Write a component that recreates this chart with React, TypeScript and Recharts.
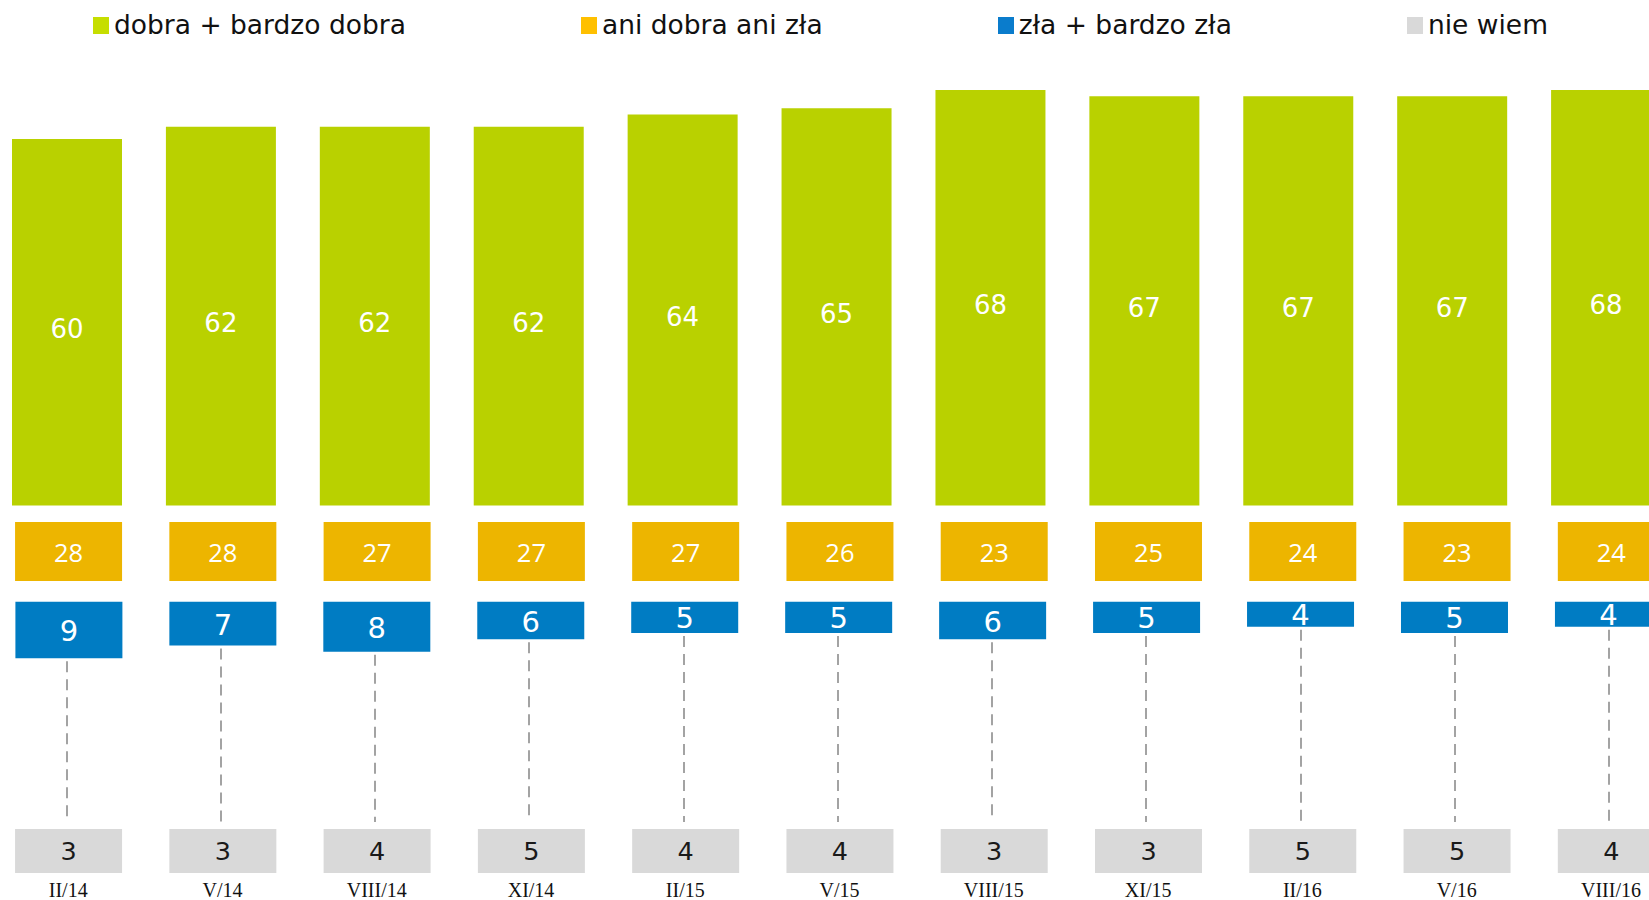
import React from 'react';
import { BarChart, Bar, XAxis, YAxis, LabelList, Legend } from 'recharts';

// ---------- data ----------
const categories = ['II/14', 'V/14', 'VIII/14', 'XI/14', 'II/15', 'V/15', 'VIII/15', 'XI/15', 'II/16', 'V/16', 'VIII/16'];
const goodValues = [60, 62, 62, 62, 64, 65, 68, 67, 67, 67, 68];
const neutralValues = [28, 28, 27, 27, 27, 26, 23, 25, 24, 23, 24];
const badValues = [9, 7, 8, 6, 5, 5, 6, 5, 4, 5, 4];
const dontKnowValues = [3, 3, 4, 5, 4, 4, 3, 3, 5, 5, 4];

const NAME_GOOD = 'dobra + bardzo dobra';
const NAME_NEUTRAL = 'ani dobra ani zła';
const NAME_BAD = 'zła + bardzo zła';
const NAME_DK = 'nie wiem';
const LEGEND_ORDER = [NAME_GOOD, NAME_NEUTRAL, NAME_BAD, NAME_DK];

// ---------- styles / layout ----------
const GREEN = '#b9d100';
const ORANGE = '#edb500';
const BLUE = '#007cc3';
const GRAY = '#d9d9d9';
const LEGEND_COLORS: Record<string, string> = {
  [NAME_GOOD]: '#c6de00',
  [NAME_NEUTRAL]: '#ffc000',
  [NAME_BAD]: '#0a7ccc',
  [NAME_DK]: '#d9d9d9',
};

const CHART_W = 1722;
const CHART_H = 900;
const MARGIN = { top: 0, right: 0, left: 20, bottom: 0 };
const X_AXIS_H = 25;
const PLOT_H = CHART_H - MARGIN.top - MARGIN.bottom - X_AXIS_H;

const GREEN_BASE = 505.5;
const GREEN_K = 6.11;
const ORANGE_TOP = 522;
const ORANGE_BOTTOM = 581;
const BLUE_TOP = 601.7;
const BLUE_K = 6.27;
const DASH_GAP_PX = 3;
const DASH_END = 822;
const GRAY_TOP = 829;
const GRAY_BOTTOM = 873;
const X_LABEL_BASELINE = 897;

const upDomain = (y0: number, k: number): [number, number] => [-(PLOT_H - y0) / k, y0 / k];
const downDomain = (y0: number, k: number): [number, number] => [-y0 / k, (PLOT_H - y0) / k];

const data = categories.map((cat, i) => ({
  cat,
  good: goodValues[i],
  neutral: neutralValues[i],
  bad: badValues[i],
  dk: dontKnowValues[i],
  box: 1,
  dash: [badValues[i] + DASH_GAP_PX / BLUE_K, (DASH_END - BLUE_TOP) / BLUE_K],
}));

const rectOf = (p: any) => {
  const vb = p.viewBox || p;
  const x = vb.x ?? p.x;
  const y = vb.y ?? p.y;
  const w = vb.width ?? p.width;
  const h = vb.height ?? p.height;
  const top = Math.min(y, y + h);
  return { x, top, w, h: Math.abs(h) };
};

const makeLabel = (color: string, font: string, size: number, dy: number) => (p: any) => {
  const r = rectOf(p);
  return (
    <text
      x={r.x + r.w / 2}
      y={r.top + r.h / 2 + dy}
      textAnchor="middle"
      dominantBaseline="central"
      fill={color}
      fontFamily={font}
      fontSize={size}
    >
      {p.value}
    </text>
  );
};

const DashShape = (p: any) => {
  const cx = Math.round(p.x + p.width / 2);
  const y1 = Math.min(p.y, p.y + p.height);
  const y2 = Math.max(p.y, p.y + p.height);
  return <line x1={cx} x2={cx} y1={y1} y2={y2} stroke="#a3a3a3" strokeWidth={2} strokeDasharray="11 7" />;
};

const XTick = (p: any) => (
  <text x={p.x} y={X_LABEL_BASELINE} textAnchor="middle" fontFamily="'Liberation Serif', serif" fontSize={20} fill="#111">
    {p.payload.value}
  </text>
);

const renderLegend = (props: any) => {
  const items = (props.payload || [])
    .filter((e: any) => e.type !== 'none')
    .slice()
    .sort((a: any, b: any) => LEGEND_ORDER.indexOf(a.value) - LEGEND_ORDER.indexOf(b.value));
  return (
    <div
      style={{
        display: 'flex',
        alignItems: 'center',
        height: 50,
        fontFamily: "'DejaVu Sans', sans-serif",
        fontSize: 26.5,
        color: '#111',
        whiteSpace: 'nowrap',
      }}
    >
      {items.map((e: any, i: number) => (
        <div key={i} style={{ display: 'flex', alignItems: 'center', marginRight: 175 }}>
          <span style={{ display: 'inline-block', width: 16, height: 17, background: LEGEND_COLORS[e.value], marginRight: 5 }} />
          <span style={{ lineHeight: 1 }}>{e.value}</span>
        </div>
      ))}
    </div>
  );
};

export default function App() {
  return (
    <div style={{ position: 'fixed', left: 0, top: 0, width: 1649, height: 900, overflow: 'hidden', background: '#fff' }}>
      <div style={{ position: 'absolute', left: -32, top: 0 }}>
        <BarChart width={CHART_W} height={CHART_H} data={data} margin={MARGIN}>
          <XAxis xAxisId="g" dataKey="cat" hide padding={{ left: 2, right: 7 }} />
          <XAxis
            xAxisId="o"
            dataKey="cat"
            padding={{ left: 3.06, right: 1.9 }}
            axisLine={false}
            tickLine={false}
            tickSize={0}
            tickMargin={0}
            height={X_AXIS_H}
            interval={0}
            tick={<XTick />}
          />
          <XAxis xAxisId="gr" dataKey="cat" hide padding={{ left: 3.06, right: 1.9 }} />
          <XAxis xAxisId="b" dataKey="cat" hide padding={{ left: 4.4, right: 4.1 }} />
          <XAxis xAxisId="d" dataKey="cat" hide padding={{ left: 1.06, right: 3.9 }} />

          <YAxis yAxisId="g" hide type="number" domain={upDomain(GREEN_BASE, GREEN_K)} allowDataOverflow />
          <YAxis yAxisId="o" hide type="number" domain={upDomain(ORANGE_BOTTOM, ORANGE_BOTTOM - ORANGE_TOP)} allowDataOverflow />
          <YAxis yAxisId="b" hide type="number" reversed domain={downDomain(BLUE_TOP, BLUE_K)} allowDataOverflow />
          <YAxis yAxisId="gr" hide type="number" domain={upDomain(GRAY_BOTTOM, GRAY_BOTTOM - GRAY_TOP)} allowDataOverflow />

          <Legend
            layout="horizontal"
            verticalAlign="middle"
            align="center"
            content={renderLegend}
            wrapperStyle={{ top: 0, left: 125, width: 1590, height: 50 }}
          />

          <Bar xAxisId="g" yAxisId="g" dataKey="good" name={NAME_GOOD} fill={GREEN} barSize={110} isAnimationActive={false}>
            <LabelList dataKey="good" content={makeLabel('#ffffff', "'DejaVu Sans', sans-serif", 26, 7)} />
          </Bar>
          <Bar xAxisId="o" yAxisId="o" dataKey="box" name={NAME_NEUTRAL} fill={ORANGE} barSize={107} isAnimationActive={false}>
            <LabelList dataKey="neutral" content={makeLabel('#ffffff', "'Open Sans', sans-serif", 25.5, 0)} />
          </Bar>
          <Bar xAxisId="b" yAxisId="b" dataKey="bad" name={NAME_BAD} fill={BLUE} barSize={107} isAnimationActive={false}>
            <LabelList dataKey="bad" content={makeLabel('#ffffff', "'DejaVu Sans', sans-serif", 29, 1)} />
          </Bar>
          <Bar xAxisId="d" yAxisId="b" dataKey="dash" legendType="none" shape={DashShape} barSize={107} isAnimationActive={false} />
          <Bar xAxisId="gr" yAxisId="gr" dataKey="box" name={NAME_DK} fill={GRAY} barSize={107} isAnimationActive={false}>
            <LabelList dataKey="dk" content={makeLabel('#1a1a1a', "'DejaVu Sans', sans-serif", 25.5, 0)} />
          </Bar>
        </BarChart>
      </div>
    </div>
  );
}
